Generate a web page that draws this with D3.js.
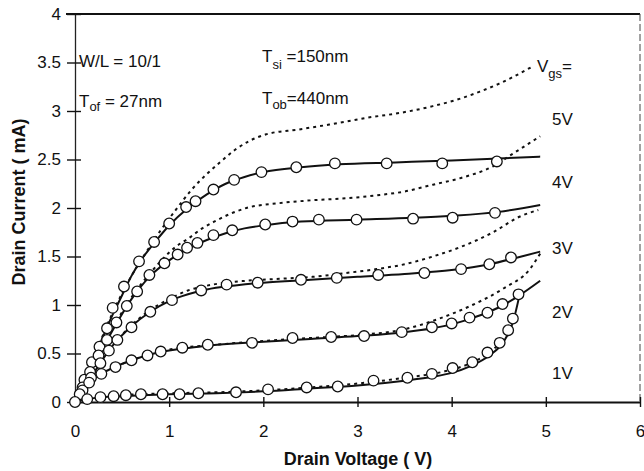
<!DOCTYPE html>
<html><head><meta charset="utf-8">
<script src="https://cdnjs.cloudflare.com/ajax/libs/d3/7.8.5/d3.min.js"></script>
<style>
html,body{margin:0;padding:0;background:#fff;}
text{font-family:"Liberation Sans",Arial,Helvetica,sans-serif;fill:#111;}
</style></head>
<body><svg id="c" width="644" height="471"></svg>
<script>
// ---- data ----
const xTicks = [0,1,2,3,4,5,6];
const yTicks = [0,0.5,1,1.5,2,2.5,3,3.5,4];
const vgsLabels = ["5V","4V","3V","2V","1V"];
const vgsLabelY = [2.92,2.27,1.59,0.93,0.30];

// measured points (circles) [Vd, Id]
const meas5V = [[0.10,0.23],[0.18,0.41],[0.26,0.57],[0.34,0.76],[0.40,0.97],[0.52,1.19],[0.68,1.45],[0.84,1.65],[1.0,1.84],[1.18,2.01],[1.28,2.07],[1.47,2.19],[1.69,2.29],[1.98,2.37],[2.35,2.42],[2.76,2.46],[3.31,2.46],[3.90,2.46],[4.48,2.48]];
const meas4V = [[0.08,0.15],[0.16,0.31],[0.25,0.48],[0.34,0.64],[0.44,0.82],[0.55,0.99],[0.66,1.14],[0.79,1.31],[0.95,1.43],[1.09,1.52],[1.19,1.59],[1.30,1.64],[1.47,1.72],[1.67,1.77],[2.02,1.83],[2.31,1.86],[2.59,1.88],[2.99,1.88],[3.59,1.89],[4.01,1.90],[4.46,1.95]];
const meas3V = [[0.08,0.12],[0.17,0.25],[0.27,0.40],[0.36,0.53],[0.45,0.64],[0.60,0.77],[0.80,0.93],[1.03,1.05],[1.34,1.15],[1.61,1.21],[1.94,1.23],[2.40,1.26],[2.78,1.28],[3.22,1.31],[3.71,1.33],[4.10,1.37],[4.40,1.42],[4.63,1.49]];
const meas2V = [[0.05,0.08],[0.15,0.20],[0.28,0.29],[0.43,0.36],[0.60,0.43],[0.77,0.48],[0.91,0.52],[1.14,0.56],[1.41,0.59],[1.88,0.61],[2.31,0.66],[2.72,0.67],[3.07,0.68],[3.47,0.72],[3.79,0.77],[4.00,0.81],[4.19,0.87],[4.38,0.92],[4.54,1.01],[4.71,1.11]];
const meas1V = [[0.0,0.0],[0.13,0.03],[0.27,0.05],[0.41,0.06],[0.54,0.07],[0.70,0.08],[0.93,0.08],[1.11,0.08],[1.31,0.09],[1.71,0.10],[2.05,0.13],[2.46,0.15],[2.79,0.16],[3.17,0.22],[3.53,0.25],[3.79,0.29],[4.01,0.35],[4.22,0.41],[4.38,0.51],[4.51,0.61],[4.60,0.74],[4.65,0.86]];

// model A (solid lines)
const solid5V = [[0,0],[0.1,0.22],[0.2,0.45],[0.3,0.68],[0.4,0.9],[0.5,1.1],[0.6,1.3],[0.7,1.46],[0.85,1.65],[1.0,1.82],[1.2,2.0],[1.4,2.14],[1.6,2.25],[1.8,2.32],[2.0,2.37],[2.4,2.42],[2.8,2.45],[3.4,2.47],[4.0,2.49],[4.5,2.51],[4.94,2.53]];
const solid4V = [[0,0],[0.2,0.38],[0.4,0.74],[0.6,1.06],[0.8,1.3],[1.0,1.46],[1.2,1.58],[1.4,1.67],[1.6,1.74],[1.8,1.79],[2.0,1.82],[2.4,1.86],[3.0,1.88],[3.6,1.9],[4.0,1.92],[4.5,1.96],[4.94,2.03]];
const solid3V = [[0,0],[0.2,0.3],[0.4,0.58],[0.6,0.78],[0.8,0.93],[1.0,1.04],[1.2,1.11],[1.4,1.16],[1.7,1.2],[2.0,1.23],[2.5,1.26],[3.0,1.29],[3.5,1.32],[4.0,1.36],[4.4,1.42],[4.7,1.49],[4.94,1.55]];
const solid2V = [[0,0],[0.1,0.14],[0.2,0.24],[0.4,0.35],[0.6,0.43],[0.8,0.49],[1.0,0.53],[1.4,0.58],[2.0,0.62],[2.5,0.65],[3.0,0.68],[3.5,0.72],[3.8,0.76],[4.0,0.8],[4.2,0.86],[4.4,0.93],[4.55,1.0],[4.72,1.1],[4.94,1.25]];
const solid1V = [[0,0],[0.2,0.04],[0.5,0.06],[1.0,0.08],[1.5,0.09],[2.0,0.11],[2.5,0.14],[3.0,0.17],[3.5,0.22],[3.8,0.26],[4.0,0.30],[4.2,0.37],[4.4,0.48],[4.55,0.62],[4.65,0.82],[4.72,1.1]];

// model B (dotted lines)
const dot5V = [[0,0],[0.2,0.46],[0.4,0.92],[0.6,1.3],[0.76,1.55],[0.91,1.77],[1.07,1.98],[1.24,2.19],[1.4,2.35],[1.55,2.48],[1.7,2.6],[1.85,2.69],[2.03,2.76],[2.38,2.81],[2.7,2.86],[3.1,2.93],[3.45,2.98],[3.8,3.05],[4.1,3.13],[4.3,3.2],[4.5,3.28],[4.65,3.35],[4.86,3.46]];
const dot4V = [[0,0],[0.2,0.39],[0.4,0.76],[0.6,1.08],[0.8,1.33],[1.07,1.6],[1.21,1.69],[1.35,1.79],[1.5,1.87],[1.65,1.94],[1.82,2.0],[2.17,2.05],[2.52,2.08],[2.88,2.1],[3.2,2.13],[3.5,2.17],[3.8,2.24],[4.1,2.31],[4.44,2.43],[4.65,2.56],[4.94,2.74]];
const dot3V = [[0,0],[0.2,0.3],[0.4,0.58],[0.6,0.79],[0.8,0.95],[1.0,1.06],[1.2,1.15],[1.46,1.21],[1.82,1.25],[2.17,1.27],[2.52,1.29],[2.88,1.33],[3.2,1.37],[3.5,1.42],[3.8,1.5],[4.1,1.6],[4.44,1.75],[4.72,1.91],[4.92,1.98]];
const dot2V = [[0,0],[0.2,0.25],[0.4,0.35],[0.6,0.43],[1.0,0.54],[1.5,0.59],[2.0,0.63],[2.5,0.66],[3.0,0.69],[3.5,0.75],[3.87,0.86],[4.22,1.0],[4.55,1.17],[4.83,1.37],[4.94,1.53]];
const dot1V = [[0,0],[0.5,0.07],[1.0,0.09],[1.5,0.10],[2.0,0.12],[2.5,0.15],[3.0,0.19],[3.5,0.25],[3.9,0.31],[4.2,0.40],[4.4,0.51],[4.55,0.64]];

// ---- chart ----
const svg = d3.select("#c");
const x = d3.scaleLinear().domain([0,6]).range([75,640]);
const y = d3.scaleLinear().domain([0,4]).range([402,14]);

// frame: top and right
svg.append("line").attr("x1",66).attr("x2",x(6)).attr("y1",y(4)).attr("y2",y(4))
  .attr("stroke","#111").attr("stroke-width",2);
svg.append("line").attr("x1",x(6)).attr("x2",x(6)).attr("y1",y(4)).attr("y2",y(0))
  .attr("stroke","#444").attr("stroke-width",1).attr("stroke-dasharray","7,3");

// y axis
const yAx = svg.append("g").attr("transform",`translate(${x(0)},0)`)
  .call(d3.axisLeft(y).tickValues(yTicks).tickFormat(d3.format("~g")).tickSizeInner(8).tickSizeOuter(0).tickPadding(6));
svg.append("g").attr("transform",`translate(${x(0)},0)`)
  .call(d3.axisLeft(y).tickValues(yTicks).tickFormat("").tickSizeInner(-6).tickSizeOuter(0))
  .select(".domain").remove();
yAx.select(".domain").attr("stroke","#222").attr("stroke-width",1.3);
// x axis
const xAx = svg.append("g").attr("transform",`translate(0,${y(0)})`)
  .call(d3.axisBottom(x).tickValues(xTicks).tickFormat(d3.format("d")).tickSizeInner(5).tickSizeOuter(0).tickPadding(18));
svg.append("g").attr("transform",`translate(0,${y(0)})`)
  .call(d3.axisBottom(x).tickValues(xTicks).tickFormat("").tickSizeInner(-5).tickSizeOuter(0))
  .select(".domain").remove();
xAx.select(".domain").attr("stroke","#111").attr("stroke-width",2.2);
svg.selectAll(".tick line").attr("stroke","#111").attr("stroke-width",1.4);
svg.selectAll(".tick text").style("font-size","17px").style("font-family","'Liberation Sans',Arial,sans-serif").attr("fill","#111");

// axis titles
svg.append("text").attr("x",358).attr("y",465).attr("text-anchor","middle")
  .style("font-size","18px").style("font-weight","bold").text("Drain Voltage  ( V)");
svg.append("text").attr("transform","translate(25,202) rotate(-90)").attr("text-anchor","middle")
  .style("font-size","18px").style("font-weight","bold").text("Drain Current  ( mA)");

const line = d3.line().x(d=>x(d[0])).y(d=>y(d[1])).curve(d3.curveMonotoneX);

const dots = [dot5V,dot4V,dot3V,dot2V,dot1V];
const solids = [solid5V,solid4V,solid3V,solid2V,solid1V];
const meas = [meas5V,meas4V,meas3V,meas2V,meas1V];

dots.forEach(d=>{
  svg.append("path").attr("d",line(d)).attr("fill","none").attr("stroke","#111")
    .attr("stroke-width",2).attr("stroke-dasharray","3,4");
});
solids.forEach(d=>{
  svg.append("path").attr("d",line(d)).attr("fill","none").attr("stroke","#111")
    .attr("stroke-width",2);
});
meas.forEach(d=>{
  svg.append("g").selectAll("circle").data(d).join("circle")
    .attr("cx",p=>x(p[0])).attr("cy",p=>y(p[1])).attr("r",5.3)
    .attr("fill","#fff").attr("stroke","#111").attr("stroke-width",1.3);
});

// annotations
const ann = svg.append("g").style("font-size","17px");
ann.append("text").attr("x",79).attr("y",67).text("W/L = 10/1");
const t1 = ann.append("text").attr("x",79).attr("y",107);
t1.append("tspan").text("T");
t1.append("tspan").attr("dy",4).style("font-size","13px").text("of");
t1.append("tspan").attr("dy",-4).text(" = 27nm");
const t2 = ann.append("text").attr("x",262).attr("y",62);
t2.append("tspan").text("T");
t2.append("tspan").attr("dy",7).style("font-size","13px").text("si");
t2.append("tspan").attr("dy",-7).text(" =150nm");
const t3 = ann.append("text").attr("x",262).attr("y",104);
t3.append("tspan").text("T");
t3.append("tspan").attr("dy",5).style("font-size","13px").text("ob");
t3.append("tspan").attr("dy",-5).text("=440nm");
const t4 = ann.append("text").attr("x",537).attr("y",72);
t4.append("tspan").text("V");
t4.append("tspan").attr("dy",6).style("font-size","13px").text("gs");
t4.append("tspan").attr("dy",-6).text("=");
ann.selectAll("text.vl").data(vgsLabels).join("text").attr("class","vl")
  .attr("x",552).attr("y",(d,i)=>y(vgsLabelY[i])+6).text(d=>d);
</script></body></html>
